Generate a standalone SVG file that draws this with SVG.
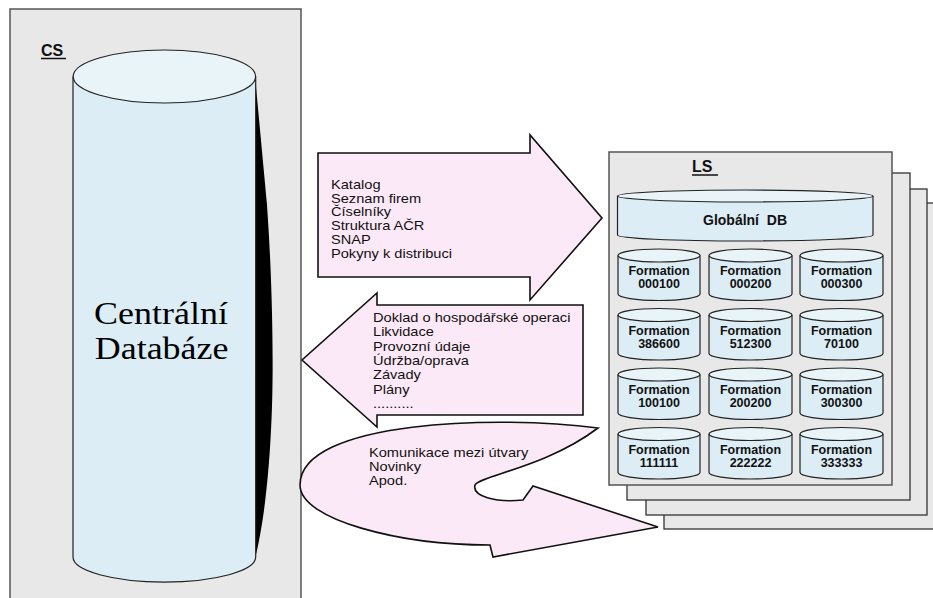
<svg xmlns="http://www.w3.org/2000/svg" width="933" height="598" viewBox="0 0 933 598">
  <defs>
    <style>
      .panel { fill: #e8e8e8; stroke: #555; stroke-width: 1.5; }
      .sheet { fill: #e8e8e8; stroke: #333; stroke-width: 1.3; }
      .cyl { fill: #dcedf5; stroke: #222; stroke-width: 1.2; }
      .cyltop { fill: #e9f4f9; stroke: #222; stroke-width: 1.2; }
      .arrow { fill: #fce9f7; stroke: #111; stroke-width: 1.6; stroke-linejoin: miter; }
      .title { font-family: "Liberation Sans", Arial, sans-serif; font-weight: bold; font-size: 16px; fill: #111; }
      .lst { font-family: "Liberation Sans", Arial, sans-serif; font-size: 12.5px; fill: #111; }
      .fm { font-family: "Liberation Sans", Arial, sans-serif; font-weight: bold; font-size: 12.5px; fill: #111; text-anchor: middle; }
      .big { font-family: "Liberation Serif", "Times New Roman", serif; font-size: 31px; fill: #000; text-anchor: middle; }
    </style>
  </defs>

  <rect width="933" height="598" fill="#ffffff"/>

  <!-- Central server -->
  <g id="cs">
    <rect class="panel" x="10" y="9" width="291" height="600"/>
    <text class="title" x="41" y="56">CS</text>
    <line x1="41" y1="58.5" x2="66" y2="58.5" stroke="#111" stroke-width="1.5"/>
    <!-- dark side shading of the cylinder -->
    <path d="M255,76 L267,205 C273,290 274,380 271,430 C268,490 262,530 255.5,557 Z" fill="#000"/>
    <path class="cyl" d="M73,76.5 L73,557 A91.2,25 0 0 0 255.7,557 L255.7,76.5"/>
    <ellipse class="cyltop" cx="164.4" cy="76.5" rx="91.2" ry="26.5"/>
    <g transform="translate(161,0) scale(1.16,1)">
      <text class="big" x="0" y="324">Centrální</text>
      <text class="big" x="0.5" y="359">Databáze</text>
    </g>
  </g>

  <!-- Local server stack -->
  <g id="ls">
    <rect class="sheet" x="664" y="203" width="282" height="326"/>
    <rect class="sheet" x="646" y="189" width="281" height="326"/>
    <rect class="sheet" x="627" y="173" width="283" height="327"/>
    <rect class="panel" x="609" y="152" width="283" height="333"/>
    <text class="title" x="692" y="172">LS</text>
    <line x1="692" y1="175" x2="718" y2="175" stroke="#111" stroke-width="1.5"/>
  </g>

  <g id="globalni-db">
    <path class="cyl" d="M617.5,196 L617.5,235 A127.5,6 0 0 0 873,235 L873,196"/>
    <ellipse class="cyltop" cx="745.2" cy="196" rx="127.7" ry="6"/>
    <text class="fm" x="745" y="225" style="font-size:14px">Globální&#160; DB</text>
  </g>

  <!-- Formation databases -->
  <g id="f000100">
    <path class="cyl" d="M618,255.5 L618,294 A41,6.5 0 0 0 700,294 L700,255.5"/>
    <ellipse class="cyltop" cx="659" cy="255.5" rx="41" ry="6.5"/>
    <text class="fm" x="659" y="275">Formation</text><text class="fm" x="659" y="288">000100</text>
  </g>
  <g id="f000200">
    <path class="cyl" d="M709,255.5 L709,294 A41.5,6.5 0 0 0 792,294 L792,255.5"/>
    <ellipse class="cyltop" cx="750.5" cy="255.5" rx="41.5" ry="6.5"/>
    <text class="fm" x="750.5" y="275">Formation</text><text class="fm" x="750.5" y="288">000200</text>
  </g>
  <g id="f000300">
    <path class="cyl" d="M800,255.5 L800,294 A41.5,6.5 0 0 0 883,294 L883,255.5"/>
    <ellipse class="cyltop" cx="841.5" cy="255.5" rx="41.5" ry="6.5"/>
    <text class="fm" x="841.5" y="275">Formation</text><text class="fm" x="841.5" y="288">000300</text>
  </g>

  <g id="f386600">
    <path class="cyl" d="M618,315 L618,353.5 A41,6.5 0 0 0 700,353.5 L700,315"/>
    <ellipse class="cyltop" cx="659" cy="315" rx="41" ry="6.5"/>
    <text class="fm" x="659" y="335">Formation</text><text class="fm" x="659" y="348">386600</text>
  </g>
  <g id="f512300">
    <path class="cyl" d="M709,315 L709,353.5 A41.5,6.5 0 0 0 792,353.5 L792,315"/>
    <ellipse class="cyltop" cx="750.5" cy="315" rx="41.5" ry="6.5"/>
    <text class="fm" x="750.5" y="335">Formation</text><text class="fm" x="750.5" y="348">512300</text>
  </g>
  <g id="f70100">
    <path class="cyl" d="M800,315 L800,353.5 A41.5,6.5 0 0 0 883,353.5 L883,315"/>
    <ellipse class="cyltop" cx="841.5" cy="315" rx="41.5" ry="6.5"/>
    <text class="fm" x="841.5" y="335">Formation</text><text class="fm" x="841.5" y="348">70100</text>
  </g>

  <g id="f100100">
    <path class="cyl" d="M618,374.5 L618,413 A41,6.5 0 0 0 700,413 L700,374.5"/>
    <ellipse class="cyltop" cx="659" cy="374.5" rx="41" ry="6.5"/>
    <text class="fm" x="659" y="394">Formation</text><text class="fm" x="659" y="407">100100</text>
  </g>
  <g id="f200200">
    <path class="cyl" d="M709,374.5 L709,413 A41.5,6.5 0 0 0 792,413 L792,374.5"/>
    <ellipse class="cyltop" cx="750.5" cy="374.5" rx="41.5" ry="6.5"/>
    <text class="fm" x="750.5" y="394">Formation</text><text class="fm" x="750.5" y="407">200200</text>
  </g>
  <g id="f300300">
    <path class="cyl" d="M800,374.5 L800,413 A41.5,6.5 0 0 0 883,413 L883,374.5"/>
    <ellipse class="cyltop" cx="841.5" cy="374.5" rx="41.5" ry="6.5"/>
    <text class="fm" x="841.5" y="394">Formation</text><text class="fm" x="841.5" y="407">300300</text>
  </g>

  <g id="f111111">
    <path class="cyl" d="M618,434 L618,472.5 A41,6.5 0 0 0 700,472.5 L700,434"/>
    <ellipse class="cyltop" cx="659" cy="434" rx="41" ry="6.5"/>
    <text class="fm" x="659" y="454">Formation</text><text class="fm" x="659" y="467">111111</text>
  </g>
  <g id="f222222">
    <path class="cyl" d="M709,434 L709,472.5 A41.5,6.5 0 0 0 792,472.5 L792,434"/>
    <ellipse class="cyltop" cx="750.5" cy="434" rx="41.5" ry="6.5"/>
    <text class="fm" x="750.5" y="454">Formation</text><text class="fm" x="750.5" y="467">222222</text>
  </g>
  <g id="f333333">
    <path class="cyl" d="M800,434 L800,472.5 A41.5,6.5 0 0 0 883,472.5 L883,434"/>
    <ellipse class="cyltop" cx="841.5" cy="434" rx="41.5" ry="6.5"/>
    <text class="fm" x="841.5" y="454">Formation</text><text class="fm" x="841.5" y="467">333333</text>
  </g>

  <!-- Data flows between CS and LS; list texts are set slightly wide -->
  <g id="connectors">
    <g id="flow-to-ls">
      <polygon class="arrow" points="318,153 530,153 530,135 602,218 530,300 530,277 318,277"/>
      <g transform="translate(331,0) scale(1.17,1)">
        <text class="lst" x="0" y="188.7">Katalog</text>
        <text class="lst" x="0" y="202.6">Seznam firem</text>
        <text class="lst" x="0" y="216.5">Číselníky</text>
        <text class="lst" x="0" y="230.4">Struktura AČR</text>
        <text class="lst" x="0" y="244.3">SNAP</text>
        <text class="lst" x="0" y="258.2">Pokyny k distribuci</text>
      </g>
    </g>
    <g id="flow-to-cs">
      <polygon class="arrow" points="583,305 377,305 377,293 302,360 377,427 377,415 583,415"/>
      <g transform="translate(373,0) scale(1.17,1)">
        <text class="lst" x="0" y="322">Doklad o hospodářské operaci</text>
        <text class="lst" x="0" y="336.3">Likvidace</text>
        <text class="lst" x="0" y="350.6">Provozní údaje</text>
        <text class="lst" x="0" y="365">Údržba/oprava</text>
        <text class="lst" x="0" y="379.3">Závady</text>
        <text class="lst" x="0" y="393.6">Plány</text>
        <text class="lst" x="0" y="408">..........</text>
      </g>
    </g>
    <g id="flow-exchange">
      <path class="arrow" d="M598,428 C500,415 300,420 300,485 C300,520 400,545 490,545 L493,557 L658,527 L533,486 L523,500 C495,503 472,496 475,485 C478,476 545,468 598,428 Z"/>
      <g transform="translate(369,0) scale(1.17,1)">
        <text class="lst" x="0" y="457">Komunikace mezi útvary</text>
        <text class="lst" x="0" y="471">Novinky</text>
        <text class="lst" x="0" y="485">Apod.</text>
      </g>
    </g>
  </g>
</svg>
